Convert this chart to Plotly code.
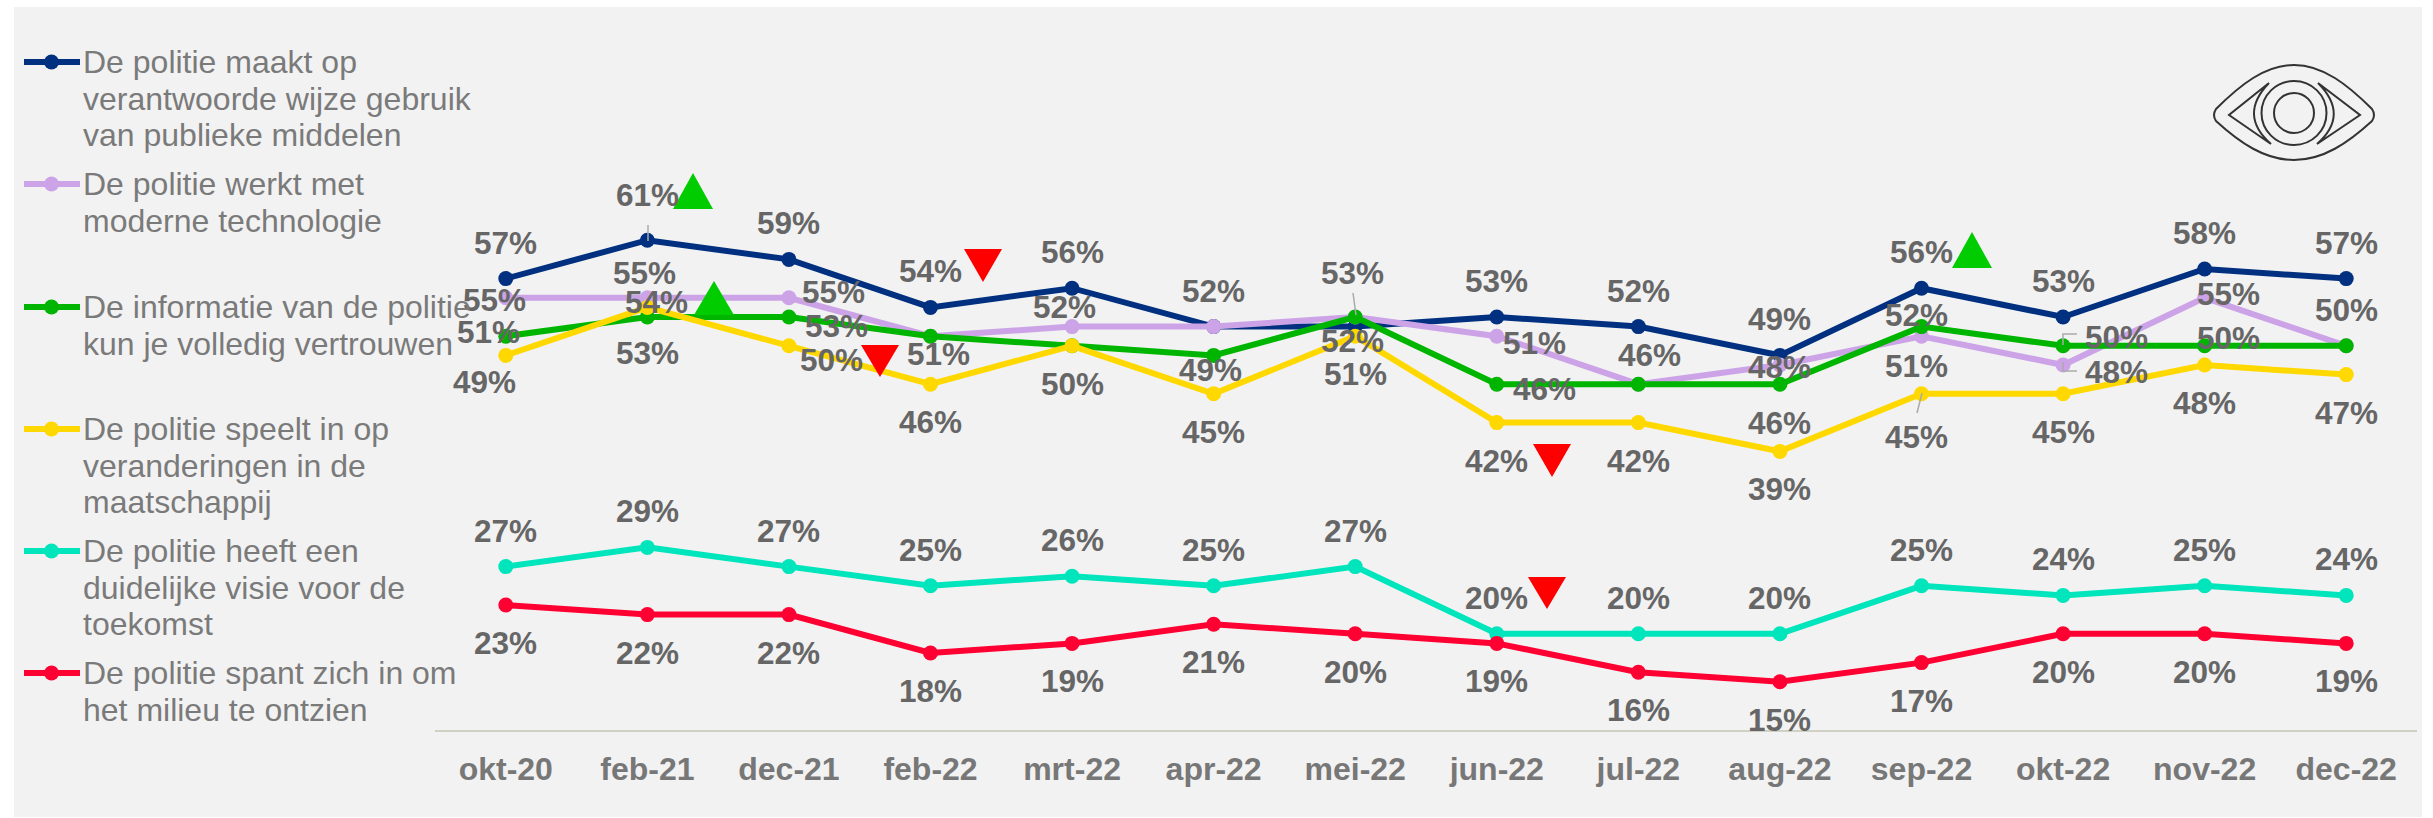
import plotly.graph_objects as go

W, H = 2433, 818
FONT = "Liberation Sans"

categories = ["okt-20", "feb-21", "dec-21", "feb-22", "mrt-22", "apr-22", "mei-22",
              "jun-22", "jul-22", "aug-22", "sep-22", "okt-22", "nov-22", "dec-22"]

verantwoord = [57, 61, 59, 54, 56, 52, 52, 53, 52, 49, 56, 53, 58, 57]
technologie = [55, 55, 55, 51, 52, 52, 53, 51, 46, 48, 51, 48, 55, 50]
informatie = [51, 53, 53, 51, 50, 49, 53, 46, 46, 46, 52, 50, 50, 50]
veranderingen = [49, 54, 50, 46, 50, 45, 51, 42, 42, 39, 45, 45, 48, 47]
visie = [27, 29, 27, 25, 26, 25, 27, 20, 20, 20, 25, 24, 25, 24]
milieu = [23, 22, 22, 18, 19, 21, 20, 19, 16, 15, 17, 20, 20, 19]

names = [
    ["De politie maakt op", "verantwoorde wijze gebruik", "van publieke middelen"],
    ["De politie werkt met", "moderne technologie"],
    ["De informatie van de politie", "kun je volledig vertrouwen"],
    ["De politie speelt in op", "veranderingen in de", "maatschappij"],
    ["De politie heeft een", "duidelijke visie voor de", "toekomst"],
    ["De politie spant zich in om", "het milieu te ontzien"],
]
series = [verantwoord, technologie, informatie, veranderingen, visie, milieu]
colors = ["#00307F", "#CDA3E8", "#00B500", "#FFD800", "#00E5BC", "#FF0033"]

# label offsets from each point, in pixels (dx, dy; dy positive = down); None = no label
A, B = (0, -36), (0, 38)
label_offsets = [
    [A, (0, -45), A, A, A, A, (-3, 14), A, A, A, A, A, A, A],
    [(-11, 2), (-3, -25), (45, -6), None, (-8, -20), None, (-3, -44), (38, 7), (11, -29),
     (0, 2), (-5, 30), (53, 7), (24, -4), A],
    [(-17, -4), (0, 36), (48, 9), (8, 18), None, (-3, 15), None, (48, 5), None,
     (0, 39), (-5, -12), (53, -9), (24, -8), None],
    [(-21, 27), (9, -5), (43, 14), B, B, B, B, B, B, B, (-5, 43), B, B, B],
    [A] * 14,
    [B] * 14,
]

LABEL_GREY = "#666666"
LEGEND_GREY = "#7A7A7A"
GREEN_MARK, RED_MARK = "#00CC00", "#FF0000"
LEADER = "#ABABAB"


def px(x):
    return x / W


def py(y):
    return 1 - y / H


def path(points):
    return "M " + " L ".join(f"{px(x):.5f},{py(y):.5f}" for x, y in points) + " Z"


fig = go.Figure()
for vals, lines, color in zip(series, names, colors):
    fig.add_trace(go.Scatter(
        x=categories, y=vals, mode="lines+markers", name=" ".join(lines),
        line=dict(color=color, width=6), marker=dict(color=color, size=15),
        showlegend=False, hoverinfo="x+y"))

shapes = [dict(type="rect", xref="paper", yref="paper", layer="below",
               x0=px(14), x1=px(2422), y0=py(817), y1=py(7),
               fillcolor="#F2F2F2", line_width=0)]

# significance triangles: (centre x, top y, bottom y, up?)
triangles = [(693, 173, 209, True), (714, 281, 315, True), (1972, 232, 268, True),
             (880, 345, 377, False), (983, 249, 282, False), (1552, 444, 477, False),
             (1547, 577, 609, False)]
for cx, top, bot, up in triangles:
    hw = 20 if up else 19
    pts = [(cx - hw, bot), (cx + hw, bot), (cx, top)] if up else [(cx - hw, top), (cx + hw, top), (cx, bot)]
    shapes.append(dict(type="path", xref="paper", yref="paper", path=path(pts),
                       fillcolor=GREEN_MARK if up else RED_MARK, line_width=0))

# leader lines
for pts in [[(648, 225), (648, 241)], [(1353, 293), (1356, 315)], [(1922, 393), (1917, 413)],
            [(2063, 345), (2063, 334), (2077, 334)], [(2063, 362), (2063, 371), (2077, 371)]]:
    d = "M " + " L ".join(f"{px(x):.5f},{py(y):.5f}" for x, y in pts)
    shapes.append(dict(type="path", xref="paper", yref="paper", path=d,
                       line=dict(color=LEADER, width=1.5)))

# eye icon
EYE = dict(color="#333333", width=2)


def curve(cmds):
    out = []
    for c in cmds:
        out.append(c[0] + " " + " ".join(f"{px(c[i]):.5f},{py(c[i + 1]):.5f}" for i in range(1, len(c), 2)))
    return " ".join(out)


eye_paths = [
    curve([("M", 2216, 109), ("C", 2240, 85, 2265, 65, 2294, 65), ("C", 2323, 65, 2348, 85, 2372, 109),
           ("Q", 2376, 115, 2372, 121), ("C", 2348, 143, 2323, 160, 2294, 160),
           ("C", 2265, 160, 2240, 143, 2216, 121), ("Q", 2212, 115, 2216, 109)]) + " Z",
    curve([("M", 2269, 83), ("L", 2229, 115), ("L", 2271, 144), ("Q", 2238, 115, 2269, 83)]) + " Z",
    curve([("M", 2318, 83), ("L", 2360, 115), ("L", 2317, 144), ("Q", 2350, 115, 2318, 83)]) + " Z",
]
for d in eye_paths:
    shapes.append(dict(type="path", xref="paper", yref="paper", path=d, line=EYE))
for cx, cy, rx, ry in [(2294, 113, 32.5, 32), (2294, 113, 20, 20)]:
    shapes.append(dict(type="circle", xref="paper", yref="paper", x0=px(cx - rx), x1=px(cx + rx),
                       y0=py(cy + ry), y1=py(cy - ry), line=EYE))

annotations = []
# data labels
for vals, offs in zip(series, label_offsets):
    for cat, v, off in zip(categories, vals, offs):
        if off is None:
            continue
        annotations.append(dict(x=cat, y=v, xref="x", yref="y", text=f"<b>{v}%</b>", showarrow=False,
                                xshift=off[0], yshift=-off[1], xanchor="center", yanchor="middle",
                                font=dict(family=FONT, size=31.5, color=LABEL_GREY)))

# legend, drawn line by line for its tight line spacing
LEG_Y = [62, 184, 307, 429, 551, 673]
for y0, lines, color in zip(LEG_Y, names, colors):
    shapes.append(dict(type="line", xref="paper", yref="paper", x0=px(24), x1=px(80), y0=py(y0), y1=py(y0),
                       line=dict(color=color, width=6)))
    shapes.append(dict(type="circle", xref="paper", yref="paper", x0=px(44), x1=px(59),
                       y0=py(y0 + 7.5), y1=py(y0 - 7.5), fillcolor=color, line_width=0))
    for i, t in enumerate(lines):
        annotations.append(dict(x=px(83), y=py(y0 + i * 36.7), xref="paper", yref="paper", text=t,
                                showarrow=False, xanchor="left", yanchor="middle", xshift=-2,
                                font=dict(family=FONT, size=32, color=LEGEND_GREY)))

fig.update_layout(
    width=W, height=H, autosize=False, margin=dict(l=0, r=0, t=0, b=0, pad=0),
    paper_bgcolor="#FFFFFF", plot_bgcolor="rgba(0,0,0,0)", showlegend=False,
    shapes=shapes, annotations=annotations,
    xaxis=dict(domain=[px(435), px(2417)], type="category", range=[-0.5, 13.5], showgrid=False, zeroline=False,
               showline=True, linecolor="#D0D0C4", linewidth=2, ticks="outside", ticklen=10,
               tickcolor="rgba(0,0,0,0)", tickfont=dict(family=FONT, size=32, color="#777777"),
               tickvals=categories, ticktext=[f"<b>{c}</b>" for c in categories], tickangle=0),
    yaxis=dict(domain=[py(729.8), py(153.8)], range=[10, 70], visible=False, showgrid=False, zeroline=False),
)

fig.write_html("out.html", config={"displayModeBar": False},
               post_script="document.body.style.margin='0';")
